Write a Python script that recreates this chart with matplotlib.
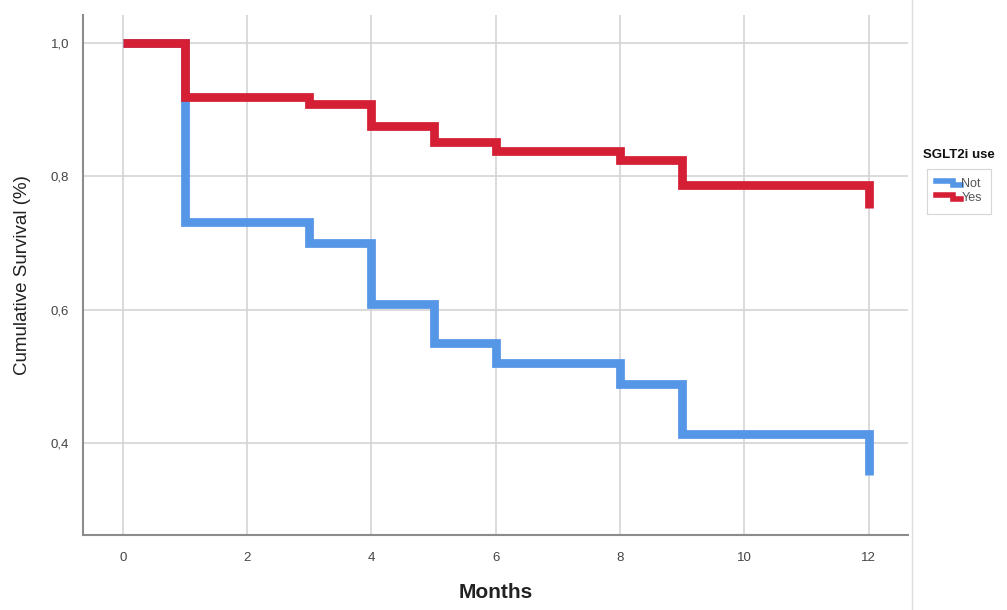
import matplotlib
matplotlib.use('Agg')
import matplotlib.pyplot as plt
from matplotlib.lines import Line2D
from matplotlib.legend_handler import HandlerBase
from matplotlib.ticker import FuncFormatter

plt.rcParams['font.family'] = ['Liberation Sans', 'DejaVu Sans']

# Kaplan-Meier step data (time in months, survival)
times_not = [0, 1, 3, 4, 5, 6, 8, 9, 12]
surv_not = [1.0, 0.731, 0.700, 0.608, 0.550, 0.520, 0.489, 0.414, 0.352]

times_yes = [0, 1, 3, 4, 5, 6, 8, 9, 12]
surv_yes = [1.0, 0.919, 0.908, 0.875, 0.851, 0.838, 0.824, 0.787, 0.753]

labels = ['Not', 'Yes']
colors = ['#5596E6', '#D51F35']

x_ticks = [0, 2, 4, 6, 8, 10, 12]
y_ticks = [0.4, 0.6, 0.8, 1.0]


# small step-shaped legend icon, like SPSS draws it
class StepHandler(HandlerBase):
    def create_artists(self, legend, orig, xdescent, ydescent, width, height, fontsize, trans):
        x0, y0 = -xdescent, -ydescent
        xs = [x0, x0 + width * 0.65, x0 + width * 0.65, x0 + width]
        ys = [y0 + height * 0.75, y0 + height * 0.75, y0 + height * 0.25, y0 + height * 0.25]
        ln = Line2D(xs, ys, color=orig.get_color(), lw=orig.get_linewidth(),
                    solid_joinstyle='miter', transform=trans)
        return [ln]


fig = plt.figure(figsize=(10.07, 6.10), dpi=100)
ax = fig.add_axes([83 / 1007, 75 / 610, 825 / 1007, 520 / 610])

ax.step(times_not, surv_not, where='post', color=colors[0], lw=6.3,
        solid_joinstyle='miter', solid_capstyle='butt', zorder=3)
ax.step(times_yes, surv_yes, where='post', color=colors[1], lw=6.3,
        solid_joinstyle='miter', solid_capstyle='butt', zorder=4)

ax.set_xlim(-0.64, 12.63)
ax.set_ylim(0.262, 1.042)
ax.set_xticks(x_ticks)
ax.set_yticks(y_ticks)
ax.yaxis.set_major_formatter(FuncFormatter(lambda v, p: f'{v:.1f}'.replace('.', ',')))
ax.tick_params(length=0, labelsize=9.5, colors='#444444', pad=10)
ax.tick_params(axis='x', pad=12)

ax.grid(True, color='#d4d4d4', lw=1.2)
ax.set_axisbelow(True)
for s in ['top', 'right']:
    ax.spines[s].set_visible(False)
for s in ['left', 'bottom']:
    ax.spines[s].set_color('#8c8c8c')
    ax.spines[s].set_linewidth(1.5)

ax.set_xlabel('Months', fontsize=15, fontweight='bold', color='#222222', labelpad=14)
ax.set_ylabel('Cumulative Survival (%)', fontsize=13.5, color='#222222', labelpad=14)

# separator line between plot and legend panel
fig.add_artist(Line2D([912 / 1007, 912 / 1007], [0, 1], color='#dddddd', lw=1))

handles = [Line2D([], [], color=c, lw=4) for c in colors]
fig.text(923 / 1007, 1 - 155 / 610, 'SGLT2i use', fontsize=9.5, fontweight='bold',
         va='center', ha='left', color='#111111')
leg = fig.legend(handles, labels, loc='upper left',
                 bbox_to_anchor=(927 / 1007, 1 - 169 / 610),
                 handler_map={Line2D: StepHandler()},
                 fontsize=9, frameon=True, fancybox=False, edgecolor='#cccccc',
                 handlelength=2.0, handletextpad=0.0, labelspacing=0.15,
                 borderpad=0.75, borderaxespad=0)
leg.get_frame().set_linewidth(0.8)
for t in leg.get_texts():
    t.set_color('#555555')

fig.savefig('out.png', dpi=100)
